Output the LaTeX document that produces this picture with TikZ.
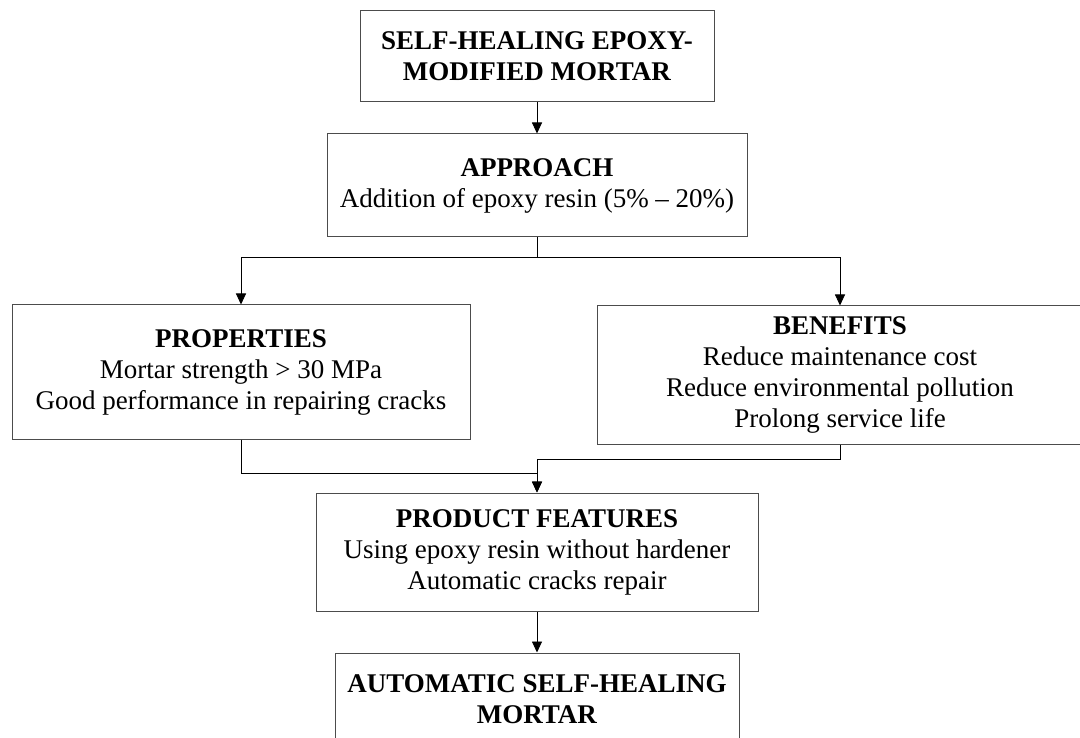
\documentclass[tikz,border=0pt]{standalone}
\usepackage{fontspec}
\setmainfont{Liberation Serif}
\usetikzlibrary{arrows.meta}
\begin{document}
\begin{tikzpicture}[x=1pt,y=-1pt,
  box/.style={draw=black!70, line width=1pt, rectangle, inner sep=0pt, align=center,
    font=\fontsize{27}{31}\selectfont},
  arr/.style={draw=black, line width=0.9pt, -{Triangle[length=11pt,width=10pt]}},
  ln/.style={draw=black, line width=0.9pt}]
\fill[white] (0,0) rectangle (1080,738);
\useasboundingbox (0,0) rectangle (1080,738);

\node[box, minimum width=354pt, minimum height=91pt] (top) at (537,56.5)
  {\textbf{SELF-HEALING EPOXY-}\\\textbf{MODIFIED MORTAR}};
\node[box, minimum width=420pt, minimum height=103pt] (approach) at (537,185.5)
  {\textbf{APPROACH}\\Addition of epoxy resin (5\% -- 20\%)};
\node[box, minimum width=458pt, minimum height=134pt] (props) at (241,372)
  {\textbf{PROPERTIES}\\Mortar strength > 30 MPa\\Good performance in repairing cracks};
\node[box, minimum width=486pt, minimum height=138pt] (ben) at (840,375)
  {\textbf{BENEFITS}\\Reduce maintenance cost\\Reduce environmental pollution\\Prolong service life};
\node[box, minimum width=442pt, minimum height=118pt] (prod) at (537,552)
  {\textbf{PRODUCT FEATURES}\\Using epoxy resin without hardener\\Automatic cracks repair};
\node[box, minimum width=404pt, minimum height=92pt] (final) at (537,699)
  {\textbf{AUTOMATIC SELF-HEALING}\\\textbf{MORTAR}};

\coordinate (split) at (537,257);
\coordinate (jl) at (537,473);
\coordinate (jr) at (537,459);

\draw[arr] (top) -- (approach);
\draw[ln] (approach.south) -- (split);
\draw[arr] (split) -| (props.north);
\draw[arr] (split) -| (ben.north);
\draw[arr] (props.south) |- (jl) -- (prod.north);
\draw[arr] (ben.south) |- (jr) -- (prod.north);
\draw[arr] (prod) -- (final);
\end{tikzpicture}
\end{document}
